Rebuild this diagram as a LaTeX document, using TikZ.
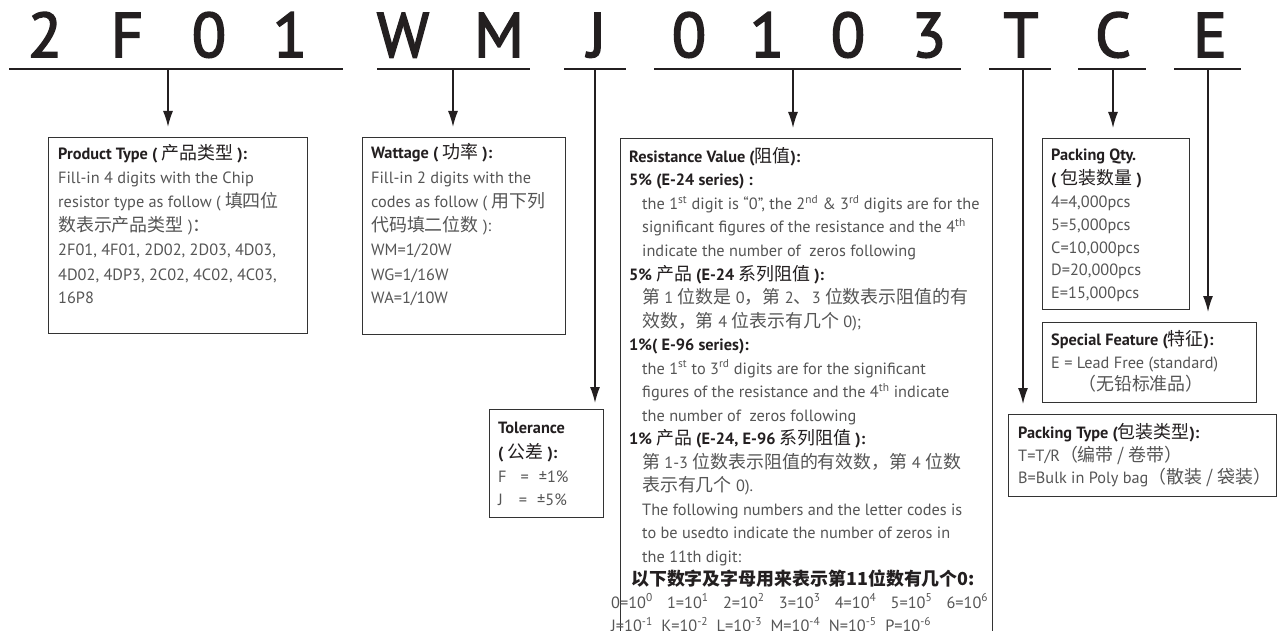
\documentclass[tikz,border=0pt]{standalone}
\usepackage{fontspec}
\setmainfont{PT Sans}
\newfontfamily\bigfont{PT Sans}
\newfontfamily\cjk[Scale=1.1]{Noto Sans CJK SC}
\usetikzlibrary{arrows.meta}
\definecolor{ink}{HTML}{231F20}
\definecolor{bodygray}{HTML}{555555}
\definecolor{boxline}{HTML}{333333}
\newcommand\zh[1]{{\cjk\mdseries #1}}
\newcommand\zhb[1]{{\cjk\bfseries #1}}
\newcommand\bodyfont{\fontsize{16.3}{18}\selectfont}
\newcommand\sps[1]{\textsuperscript{#1}}
\newcommand\heavy[1]{\special{pdf:literal 2 Tr 1.6 w}#1\special{pdf:literal 0 Tr}}
\begin{document}
\begin{tikzpicture}[x=1pt,y=-1pt,
  ul/.style={line width=2pt, draw=ink},
  arr/.style={line width=1.4pt, draw=ink, -{Latex[width=10pt,length=16pt]}, shorten >=10pt},
  boxst/.style={draw=boxline, line width=1.1pt, inner sep=0, anchor=north west},
  big/.style={font=\bigfont\fontsize{63}{63}\selectfont, text=ink, anchor=base, inner sep=0},
  txt/.style={anchor=base west, inner sep=0, font=\bodyfont, text=bodygray},
  hdr/.style={txt, font=\bodyfont\bfseries, text=ink},
]
\useasboundingbox (0,0) rectangle (1283,631);
\clip (0,0) rectangle (1283,631);
\fill[white] (0,0) rectangle (1283,631);

% code letters
\node[big] (c1) at (45,57) {\heavy{2}};
\node[big] (c2) at (127,57) {\heavy{F}};
\node[big] (c3) at (209,57) {\heavy{0}};
\node[big] (c4) at (290,57) {\heavy{1}};
\node[big] (c5) at (403,57) {\heavy{W}};
\node[big] (c6) at (499,57) {\heavy{M}};
\node[big] (c7) at (597,57) {\heavy{J}};
\node[big] (c8) at (689,57) {\heavy{0}};
\node[big] (c9) at (767,57) {\heavy{1}};
\node[big] (c10) at (848,57) {\heavy{0}};
\node[big] (c11) at (929,57) {\heavy{3}};
\node[big] (c12) at (1021,57) {\heavy{T}};
\node[big] (c13) at (1113,57) {\heavy{C}};
\node[big] (c14) at (1210,57) {\heavy{E}};

% underlines
\coordinate (u1a) at (9,69);    \coordinate (u1b) at (343,69);
\coordinate (u2a) at (377,69);  \coordinate (u2b) at (530,69);
\coordinate (u3a) at (564,69);  \coordinate (u3b) at (626,69);
\coordinate (u4a) at (654,69);  \coordinate (u4b) at (961,69);
\coordinate (u5a) at (989,69);  \coordinate (u5b) at (1051,69);
\coordinate (u6a) at (1078,69); \coordinate (u6b) at (1146,69);
\coordinate (u7a) at (1174,69); \coordinate (u7b) at (1241,69);
\foreach \i in {1,...,7} { \draw[ul] (u\i a) -- (u\i b); }

% arrow start points
\coordinate (p1) at (168,69);
\coordinate (p2) at (453,69);
\coordinate (p3) at (595,69);
\coordinate (p4) at (793,69);
\coordinate (p5) at (1023,69);
\coordinate (p6) at (1113,69);
\coordinate (p7) at (1208,69);

% boxes
\node[boxst, minimum width=259, minimum height=196] (prod) at (48,137) {};
\node[boxst, minimum width=203, minimum height=197] (watt) at (362,137) {};
\node[boxst, minimum width=372, minimum height=530] (res) at (620,138) {};
\node[boxst, minimum width=114, minimum height=108] (tol) at (489,409) {};
\node[boxst, minimum width=147, minimum height=171] (qty) at (1042,138) {};
\node[boxst, minimum width=214, minimum height=80] (spec) at (1042,322) {};
\node[boxst, minimum width=268, minimum height=82] (ptype) at (1008,414) {};

% connectors
\draw[arr] (p1) -- (prod.north -| p1);
\draw[arr] (p2) -- (watt.north -| p2);
\draw[arr, shorten >=6pt] (p3) -- (tol.north -| p3);
\draw[arr] (p4) -- (res.north -| p4);
\draw[arr] (p5) -- (ptype.north -| p5);
\draw[arr] (p6) -- (qty.north -| p6);
\draw[arr] (p7) -- (spec.north -| p7);

% product type
\node[hdr] (pt1) at (58,160) {Product Type ( \zh{产品类型} ):};
\node[txt] (pt2) at (58,184) {Fill-in 4 digits with the Chip};
\node[txt] (pt3) at (58,208) {resistor type as follow ( \zh{填四位}};
\node[txt] (pt4) at (58,232) {\zh{数表示产品类型} )\zh{：}};
\node[txt] (pt5) at (58,256) {2F01, 4F01, 2D02, 2D03, 4D03,};
\node[txt] (pt6) at (58,280) {4D02, 4DP3, 2C02, 4C02, 4C03,};
\node[txt] (pt7) at (58,304) {16P8};

% wattage
\node[hdr] (wt1) at (371,159) {Wattage ( \zh{功率} ):};
\node[txt] (wt2) at (371,184) {Fill-in 2 digits with the};
\node[txt] (wt3) at (371,208) {codes as follow ( \zh{用下列}};
\node[txt] (wt4) at (371,232) {\zh{代码填二位数} ):};
\node[txt] (wt5) at (371,256) {WM=1/20W};
\node[txt] (wt6) at (371,280) {WG=1/16W};
\node[txt] (wt7) at (371,304) {WA=1/10W};

% resistance value
\node[hdr] (rv1) at (629,162.5) {Resistance Value (\zh{阻值}):};
\node[hdr] (rv2) at (629,186) {5\% (E-24 series) :};
\node[txt] (rv3) at (642,209.5) {the 1\sps{st} digit is “0”, the 2\sps{nd} \& 3\sps{rd} digits are for the};
\node[txt] (rv4) at (642,233) {significant figures of the resistance and the 4\sps{th}};
\node[txt] (rv5) at (642,256.5) {indicate the number of\ \ zeros following};
\node[hdr] (rv6) at (629,280) {5\% \zh{产品} (E-24 \zh{系列阻值} ):};
\node[txt] (rv7) at (642,303.5) {\zh{第} 1 \zh{位数是} 0\zh{，第} 2\zh{、}3 \zh{位数表示阻值的有}};
\node[txt] (rv8) at (642,327) {\zh{效数，第} 4 \zh{位表示有几个} 0);};
\node[hdr] (rv9) at (629,350.5) {1\%( E-96 series):};
\node[txt] (rv10) at (642,374) {the 1\sps{st} to 3\sps{rd} digits are for the significant};
\node[txt] (rv11) at (642,397.5) {figures of the resistance and the 4\sps{th} indicate};
\node[txt] (rv12) at (642,421) {the number of\ \ zeros following};
\node[hdr] (rv13) at (629,444.5) {1\% \zh{产品} (E-24, E-96 \zh{系列阻值} ):};
\node[txt] (rv14) at (642,468) {\zh{第} 1-3 \zh{位数表示阻值的有效数，第} 4 \zh{位数}};
\node[txt] (rv15) at (642,491.5) {\zh{表示有几个} 0).};
\node[txt] (rv16) at (642,515) {The following numbers and the letter codes is};
\node[txt] (rv17) at (642,538.5) {to be usedto indicate the number of zeros in};
\node[txt] (rv18) at (642,562) {the 11th digit:};
\node[hdr] (rv19) at (631,585.5) {\zhb{以下数字及字母用来表示第11位数有几个0:}};
\node[txt, text width=377pt] (rv20) at (611,608) {0=10\sps{0}\hfill 1=10\sps{1}\hfill 2=10\sps{2}\hfill 3=10\sps{3}\hfill 4=10\sps{4}\hfill 5=10\sps{5}\hfill 6=10\sps{6}};
\node[txt, text width=320pt] (rv21) at (611,631.5) {J=10\sps{-1}\hfill K=10\sps{-2}\hfill L=10\sps{-3}\hfill M=10\sps{-4}\hfill N=10\sps{-5}\hfill P=10\sps{-6}};

% tolerance
\node[hdr] (tl1) at (498,433.5) {Tolerance};
\node[hdr] (tl2) at (498,458) {( \zh{公差} ):};
\node[txt] (tl3) at (498,482) {F\hspace{14pt}=\hspace{10pt}±1\%};
\node[txt] (tl4) at (498,505.5) {J\hspace{16pt}=\hspace{10pt}±5\%};

% packing qty
\node[hdr] (pq1) at (1051,160.5) {Packing Qty.};
\node[hdr] (pq2) at (1051,184.5) {( \zh{包装数量} )};
\node[txt] (pq3) at (1051,208) {4=4,000pcs};
\node[txt] (pq4) at (1051,230.5) {5=5,000pcs};
\node[txt] (pq5) at (1051,253.5) {C=10,000pcs};
\node[txt] (pq6) at (1051,275.5) {D=20,000pcs};
\node[txt] (pq7) at (1051,298.5) {E=15,000pcs};

% special feature
\node[hdr] (sf1) at (1051,345.5) {Special Feature (\zh{特征}):};
\node[txt] (sf2) at (1051,368.5) {E = Lead Free (standard)};
\node[txt] (sf3) at (1078,390.5) {\zh{（无铅标准品）}};

% packing type
\node[hdr] (py1) at (1018,438.5) {Packing Type (\zh{包装类型}):};
\node[txt] (py2) at (1018,461.5) {T=T/R\zh{（编带 / 卷带）}};
\node[txt] (py3) at (1018,483.5) {B=Bulk in Poly bag\zh{（散装 / 袋装）}};
\end{tikzpicture}
\end{document}
